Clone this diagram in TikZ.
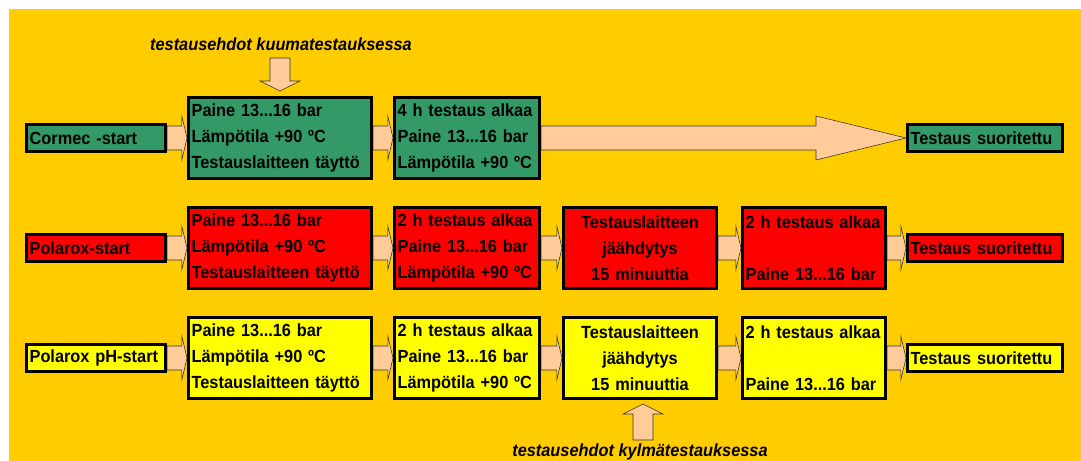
\documentclass[tikz,border=0pt]{standalone}
\usepackage{fontspec}
\setmainfont{Liberation Sans}[FakeStretch=0.93]
\usetikzlibrary{calc,shadows}

\definecolor{bgorange}{HTML}{FFCC00}
\definecolor{boxgreen}{HTML}{339966}
\definecolor{boxred}{HTML}{FF0000}
\definecolor{boxyellow}{HTML}{FFFF00}
\definecolor{peach}{HTML}{FFCC99}

% fat block arrow, left to right, from node #2 to node #3 (#1 = head length)
\newcommand{\harrow}[3][0.13cm]{%
  \draw[fatarrow] let \p1=(#2.east), \p2=(#3.west) in
    (\x1,\y1+0.3cm) -- (\x2-#1,\y1+0.3cm) -- (\x2-#1,\y1+0.55cm) -- (\x2,\y1)
    -- (\x2-#1,\y1-0.55cm) -- (\x2-#1,\y1-0.3cm) -- (\x1,\y1-0.3cm) -- cycle;}
% fat block arrow, up or down, from coordinate #1 to coordinate #2
\newcommand{\varrow}[2]{%
  \draw[fatarrow] let \p1=(#1), \p2=(#2), \n1={0.25cm*sign(\y2-\y1)} in
    (\x1-0.25cm,\y1) -- (\x1-0.25cm,\y2-\n1) -- (\x1-0.5cm,\y2-\n1) -- (\x1,\y2)
    -- (\x1+0.5cm,\y2-\n1) -- (\x1+0.25cm,\y2-\n1) -- (\x1+0.25cm,\y1) -- cycle;}

\begin{document}
\begin{tikzpicture}[
  x=0.025cm, y=-0.025cm,
  mybox/.style={
    draw,
    line width=2pt,
    fill=#1,
    anchor=west,
    minimum height=2.03cm,
    inner xsep=0.08cm,
    inner ysep=0pt,
    align=left,
    font=\bfseries\fontsize{12.5}{18.5}\selectfont,
    drop shadow={shadow xshift=1.2pt, shadow yshift=-1.2pt, fill=black, opacity=1}
    },
  smallbox/.style={
    mybox=#1,
    minimum height=0.68cm
    },
  fatarrow/.style={
    fill=peach,
    draw=black!80,
    line width=0.4pt
  },
  note/.style={
    font=\bfseries\itshape\fontsize{12.5}{14}\selectfont
  }
]

\useasboundingbox (0,0) rectangle (1081,461);
\fill[bgorange] (9,9) rectangle (1081,461);

% Cormec
\node [smallbox=boxgreen, text width=3.32cm] (c0) at (25,138) {Cormec -start};
\node [mybox=boxgreen, text width=4.42cm] (c1) at (187,138) {Paine 13...16 bar\\Lämpötila +90 ºC\\Testauslaitteen täyttö};
\node [mybox=boxgreen, text width=3.47cm] (c2) at (393,138) {4 h testaus alkaa\\Paine 13...16 bar\\Lämpötila +90 ºC};
\node [smallbox=boxgreen, text width=3.72cm] (c9) at (906,138) {Testaus suoritettu};

\harrow{c0}{c1}
\harrow{c1}{c2}
\harrow[2.25cm]{c2}{c9}

% Polarox rows
\foreach \r/\col/\y/\start in {2/boxred/248/Polarox-start, 3/boxyellow/358/Polarox pH-start} {
  \node [smallbox=\col, text width=3.32cm] (r\r s) at (25,\y) {\start};
  \node [mybox=\col, text width=4.42cm] (r\r a) at (187,\y) {Paine 13...16 bar\\Lämpötila +90 ºC\\Testauslaitteen täyttö};
  \node [mybox=\col, text width=3.47cm] (r\r b) at (393,\y) {2 h testaus alkaa\\Paine 13...16 bar\\Lämpötila +90 ºC};
  \node [mybox=\col, text width=3.67cm, align=center] (r\r c) at (562,\y) {Testauslaitteen\\jäähdytys\\15 minuuttia};
  \node [mybox=\col, text width=3.42cm] (r\r d) at (741,\y) {2 h testaus alkaa\\[18.5pt]Paine 13...16 bar};
  \node [smallbox=\col, text width=3.72cm] (r\r e) at (906,\y) {Testaus suoritettu};

  \harrow{r\r s}{r\r a}
  \harrow{r\r a}{r\r b}
  \harrow{r\r b}{r\r c}
  \harrow{r\r c}{r\r d}
  \harrow{r\r d}{r\r e}
}

% test conditions
\node [note] (hot) at (281,44) {testausehdot kuumatestauksessa};
\coordinate (hotstart) at (280,58);
\coordinate (hotend) at ($(c1.north)+(0,-5)$);
\varrow{hotstart}{hotend}

\node [note] (cold) at (640,452) {testausehdot kylmätestauksessa};
\coordinate (coldstart) at (643,440);
\coordinate (coldend) at ($(r3c.south)+(3,4)$);
\varrow{coldstart}{coldend}
\end{tikzpicture}
\end{document}
